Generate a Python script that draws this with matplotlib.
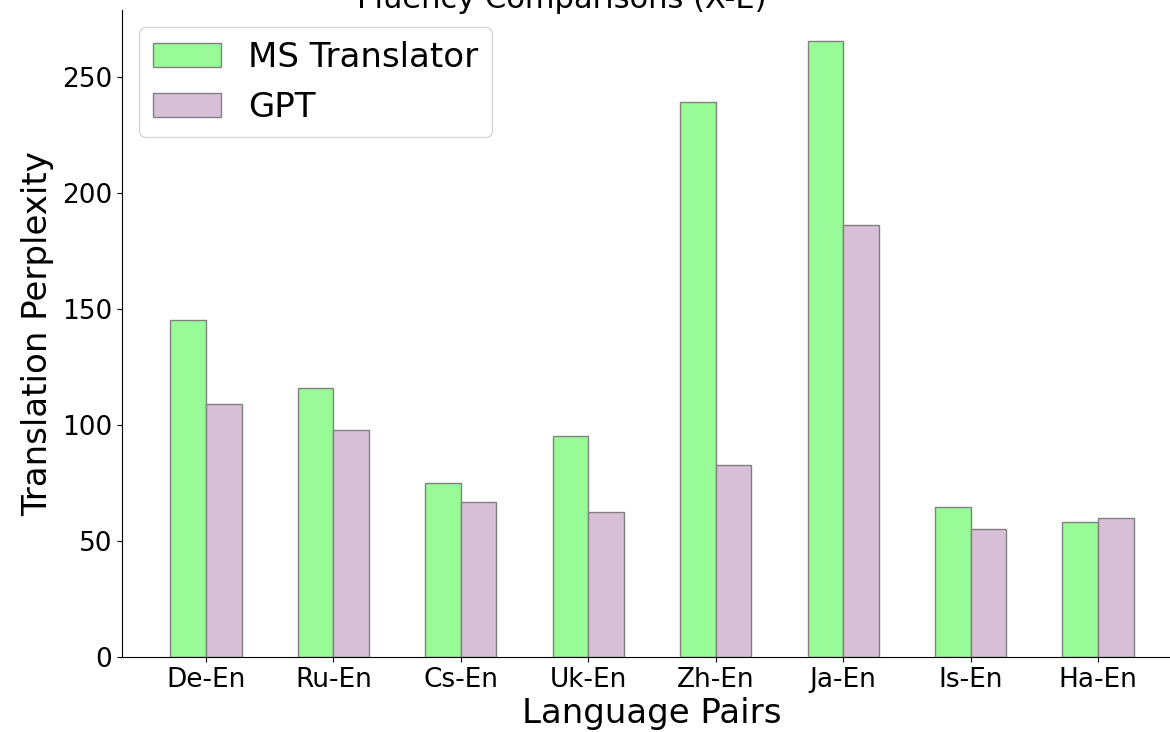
import numpy as np
from matplotlib import pyplot as plt

pairs = ['De-En', 'Ru-En', 'Cs-En', 'Uk-En', 'Zh-En', 'Ja-En', 'Is-En', 'Ha-En']
ms_translator = [145.1, 115.7, 75.1, 95.4, 239.2, 265.5, 64.8, 58.3]
gpt = [108.8, 98.0, 66.9, 62.6, 82.9, 186.1, 55.3, 60.0]

x = np.arange(len(pairs))
width = 0.28

fig = plt.figure(figsize=(11.7, 7.32), dpi=100)
# axes runs a little past the right edge, like the cropped original
ax = fig.add_axes([122 / 1170, 75 / 732, 1060 / 1170, 647 / 732])

ax.bar(x - width / 2, ms_translator, width, color='palegreen', edgecolor='gray', label='MS Translator')
ax.bar(x + width / 2, gpt, width, color='thistle', edgecolor='gray', label='GPT')

ax.set_xticks(x)
ax.set_xticklabels(pairs, fontsize=19)
ax.tick_params(axis='y', labelsize=19)
ax.set_xlabel('Language Pairs', fontsize=24.5, labelpad=3)
ax.set_ylabel('Translation Perplexity', fontsize=24.5, labelpad=6)

ax.spines['top'].set_visible(False)
ax.spines['right'].set_visible(False)

ax.legend(loc='upper left', fontsize=24.5)

# title is clipped at the top in the reference
fig.text(562 / 1170, 1 - 8 / 732, 'Fluency Comparisons (X-E)', ha='center', va='baseline', fontsize=22)

fig.savefig('out.png', dpi=100)
